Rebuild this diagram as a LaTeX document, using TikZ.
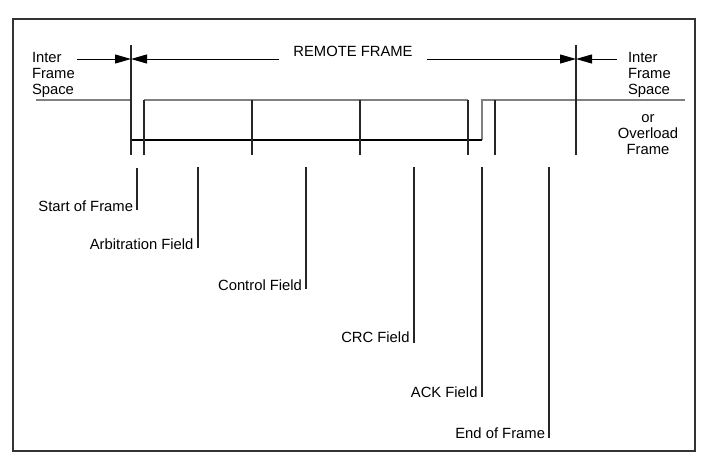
\documentclass[tikz,border=0pt]{standalone}
\usepackage{fontspec}
\setmainfont{Liberation Sans}
\usetikzlibrary{arrows.meta}
\begin{document}
\begin{tikzpicture}[x=1pt,y=-1pt,
  every node/.style={inner sep=0pt,outer sep=0pt,font=\fontsize{14.8}{16}\selectfont},
  frameline/.style={line width=1.5pt,draw=black!80},
  busline/.style={line width=2.2pt,draw=black!50},
  lowline/.style={line width=1.1pt,draw=black},
  tick/.style={line width=1.2pt,draw=black!85},
  leader/.style={line width=1.2pt,draw=black!85},
  dimarrow/.style={line width=1pt,draw=black,-{Triangle[length=16pt,width=9pt]}},
  lbl/.style={anchor=base east}]
\useasboundingbox (0,0) rectangle (711,466);
\draw[frameline] (13,19) rectangle (695,451);

% coordinates
\coordinate (busL) at (36,100);
\coordinate (sofT) at (131,45);  \coordinate (sofB) at (131,155);
\coordinate (arbT) at (144,100); \coordinate (arbB) at (144,155);
\coordinate (ctlT) at (252,100); \coordinate (ctlB) at (252,155);
\coordinate (crcT) at (360,100); \coordinate (crcB) at (360,155);
\coordinate (ackT) at (468,100); \coordinate (ackB) at (468,155);
\coordinate (ackR) at (482,100); \coordinate (ackRb) at (482,140);
\coordinate (eofT) at (495,100); \coordinate (eofB) at (495,155);
\coordinate (ifsT) at (576,45);  \coordinate (ifsB) at (576,155);
\coordinate (busR) at (685,100);

% bus lines
\draw[busline] (busL) -- (131,100);
\draw[busline] (arbT) -- (ackT);
\draw[busline] (ackRb) -- (ackR) -- (busR);
\draw[lowline] (131,140) -- (ackRb);

% field ticks
\draw[tick] (sofT) -- (sofB);
\draw[tick] (arbT) -- (arbB);
\draw[tick] (ctlT) -- (ctlB);
\draw[tick] (crcT) -- (crcB);
\draw[tick] (ackT) -- (ackB);
\draw[tick] (eofT) -- (eofB);
\draw[tick] (ifsT) -- (ifsB);

% top texts (base anchor = baseline of last line)
\node[anchor=base west,align=left] (ifsl) at (32,94) {Inter\\Frame\\Space};
\node[anchor=base] (remote) at (353,56) {REMOTE FRAME};
\node[anchor=base west,align=left] (ifsr) at (628,94) {Inter\\Frame\\Space};
\node[anchor=base,align=center] (ovl) at (648,154) {or\\Overload\\Frame};

% dimension arrows
\coordinate (aL) at (77,59);   \coordinate (aS) at (131,59);
\coordinate (aM1) at (279,59); \coordinate (aM2) at (427,59);
\coordinate (aE) at (576,59);  \coordinate (aR) at (617,59);
\draw[dimarrow] (aL) -- (aS);
\draw[dimarrow] (aM1) -- (aS);
\draw[dimarrow] (aM2) -- (aE);
\draw[dimarrow] (aR) -- (aE);

% labels
\node[lbl] (lsof) at (133,211) {Start of Frame};
\node[lbl] (larb) at (193.5,249) {Arbitration Field};
\node[lbl] (lctl) at (302,290) {Control Field};
\node[lbl] (lcrc) at (409.5,342) {CRC Field};
\node[lbl] (lack) at (477.5,397) {ACK Field};
\node[lbl] (leof) at (545,438) {End of Frame};

\coordinate (ksof) at (137,168); \coordinate (ksofb) at (137,210);
\coordinate (karb) at (198,167); \coordinate (karbb) at (198,248);
\coordinate (kctl) at (306,167); \coordinate (kctlb) at (306,289);
\coordinate (kcrc) at (414,167); \coordinate (kcrcb) at (414,343);
\coordinate (kack) at (482,167); \coordinate (kackb) at (482,397);
\coordinate (keof) at (549,167); \coordinate (keofb) at (549,438);
\draw[leader] (ksof) -- (ksofb);
\draw[leader] (karb) -- (karbb);
\draw[leader] (kctl) -- (kctlb);
\draw[leader] (kcrc) -- (kcrcb);
\draw[leader] (kack) -- (kackb);
\draw[leader] (keof) -- (keofb);
\end{tikzpicture}
\end{document}
